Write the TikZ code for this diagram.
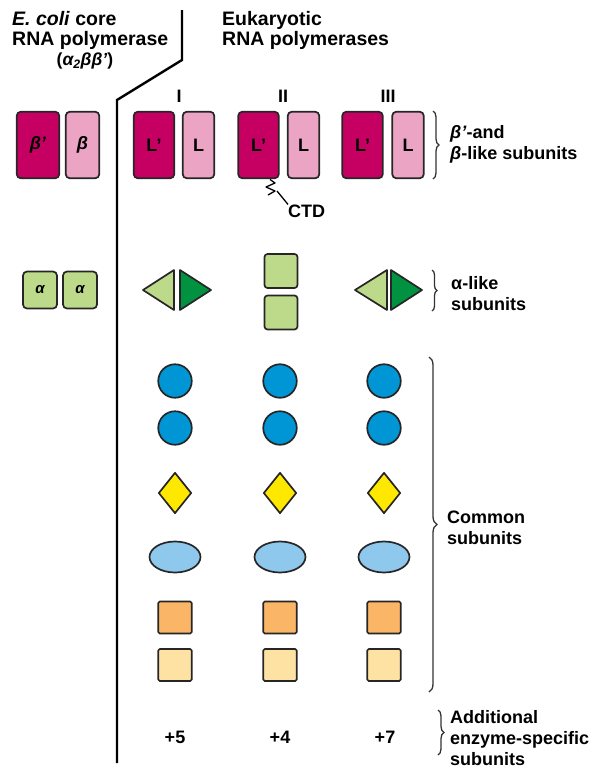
\documentclass[tikz,border=0pt]{standalone}
\usepackage{fontspec}
\setmainfont{Liberation Sans}
\usetikzlibrary{shapes.geometric,decorations.pathreplacing}
\definecolor{mag}{RGB}{198,0,98}
\definecolor{pinkl}{RGB}{236,164,196}
\definecolor{lgreen}{RGB}{188,218,138}
\definecolor{dgreen}{RGB}{0,146,64}
\definecolor{cblue}{RGB}{0,150,214}
\definecolor{cyel}{RGB}{255,232,0}
\definecolor{lblue}{RGB}{142,200,236}
\definecolor{corange}{RGB}{250,182,102}
\definecolor{lyel}{RGB}{254,226,164}
\begin{document}
\begin{tikzpicture}[x=1pt,y=-1pt,
  outl/.style={draw=black!85, line width=1.7pt, line join=round},
  txt/.style={font=\fontsize{18}{21}\selectfont\bfseries, inner sep=0pt},
  head/.style={font=\fontsize{19.5}{20}\selectfont\bfseries, inner sep=0pt, align=left, anchor=west},
  lab/.style={txt, align=left, anchor=west},
  bigdark/.style={outl, fill=mag, rounded corners=4pt, minimum height=66.5pt, minimum width=40.5pt, inner sep=0pt, font=\fontsize{18}{20}\selectfont\bfseries},
  biglight/.style={outl, fill=pinkl, rounded corners=4pt, minimum height=66.5pt, minimum width=31.5pt, inner sep=0pt, font=\fontsize{18}{20}\selectfont\bfseries},
  abox/.style={outl, fill=lgreen, rounded corners=4pt, minimum width=34pt, minimum height=37pt, inner sep=0pt, font=\fontsize{15}{16}\selectfont\bfseries\itshape},
  sqgreen/.style={outl, fill=lgreen, rounded corners=3pt, minimum width=33pt, minimum height=34pt, inner sep=0pt},
  bcirc/.style={outl, fill=cblue, circle, minimum size=33.5pt, inner sep=0pt},
  ydiam/.style={outl, fill=cyel, diamond, minimum width=33pt, minimum height=41pt, inner sep=0pt},
  lell/.style={outl, fill=lblue, ellipse, minimum width=51pt, minimum height=31pt, inner sep=0pt},
  osq/.style={outl, fill=corange, rounded corners=1.5pt, minimum width=33.5pt, minimum height=32pt, inner sep=0pt},
  ysq/.style={outl, fill=lyel, rounded corners=1.5pt, minimum width=33.5pt, minimum height=32pt, inner sep=0pt},
  brc/.style={draw=black!80, line width=1.3pt, decorate, decoration={brace, amplitude=#1}},
  brc/.default=6pt
]
\useasboundingbox (0,0) rectangle (591,769);

% headers
\node[head] (hecoli) at (12,30) {\textit{E. coli} core\\RNA polymerase};
\node[font=\fontsize{17.5}{20}\selectfont\bfseries, inner sep=0pt] (hform) at (85,61) {(\textit{α\textsubscript{2}ββ’})};
\node[head] (heuk) at (222,30) {Eukaryotic\\RNA polymerases};

% divider
\draw[line width=2.4pt] (182,10) -- (182,60) -- (117,100) -- (117,763);

% numerals
\node[txt] (nI) at (179,96) {I};
\node[txt] (nII) at (283,96) {II};
\node[txt] (nIII) at (388,96) {III};

% beta-like row
\node[bigdark, minimum width=42.5pt] (bp) at (38,145) {\textit{β’}};
\node[biglight, minimum width=33.5pt] (b) at (82.5,145) {\textit{β}};
\node[bigdark] (Lp1) at (154,145) {L’};
\node[biglight] (L1) at (198.5,145) {L};
\node[bigdark] (Lp2) at (258.5,145) {L’};
\node[biglight] (L2) at (303.5,145) {L};
\node[bigdark] (Lp3) at (362.5,145) {L’};
\node[biglight] (L3) at (408,145) {L};
\draw[brc] (433,111) -- (433,179);
\node[lab] (tbeta) at (450,144) {\textit{β’}-and\\\textit{β}-like subunits};

% CTD
\coordinate (ctdA) at (270,179.5);
\draw[line width=1.3pt, line join=round] (ctdA) -- (275,183) -- (266,187) -- (275,191) -- (268,195);
\node[txt, anchor=west] (ctd) at (288,211) {CTD};
\draw[line width=1.3pt] (277,191) -- (ctd.north west);

% alpha-like row
\node[abox] (a1) at (40,290) {α};
\node[abox] (a2) at (80,290) {α};
\draw[outl, fill=lgreen] (143,290) -- (174,270) -- (174,310) -- cycle;
\draw[outl, fill=dgreen] (180,270) -- (211,290) -- (180,310) -- cycle;
\node[sqgreen] (g1) at (281,271) {};
\node[sqgreen] (g2) at (281,312.5) {};
\draw[outl, fill=lgreen] (355,290) -- (387,270) -- (387,310) -- cycle;
\draw[outl, fill=dgreen] (391,270) -- (422,290) -- (391,310) -- cycle;
\draw[brc=5pt] (432,270) -- (432,311);
\node[lab] (talpha) at (451,294) {α-like\\subunits};

% common subunits
\foreach \c/\x in {1/175,2/280,3/384}{
  \node[bcirc] (ca\c) at (\x,381) {};
  \node[bcirc] (cb\c) at (\x,428) {};
  \node[ydiam] (d\c) at (\x,493) {};
  \node[lell] (e\c) at (\x,557) {};
  \node[osq] (o\c) at (\x,617.5) {};
  \node[ysq] (y\c) at (\x,665) {};
}
\draw[brc=8pt] (429,357) -- (429,692);
\node[lab] (tcommon) at (447,528) {Common\\subunits};

% additional
\node[txt] (p5) at (175,737) {+5};
\node[txt] (p4) at (280,737) {+4};
\node[txt] (p7) at (385,737) {+7};
\draw[brc=6pt] (438,710) -- (438,755);
\node[lab] (tadd) at (450,738) {Additional\\enzyme-specific\\subunits};
\end{tikzpicture}
\end{document}
